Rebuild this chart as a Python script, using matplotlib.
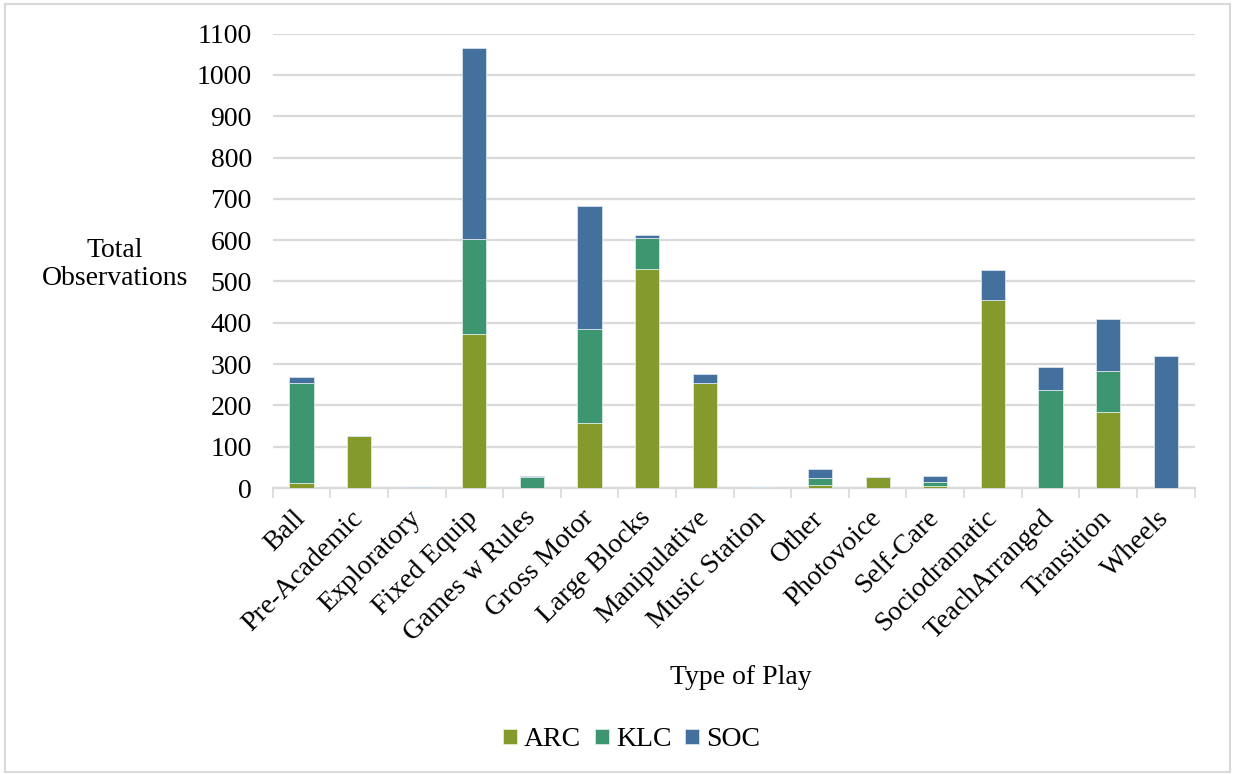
import matplotlib
matplotlib.use('Agg')
import matplotlib.pyplot as plt
import numpy as np
from matplotlib.patches import Rectangle

# Types of play and counts per site
categories = ['Ball', 'Pre-Academic', 'Exploratory', 'Fixed Equip', 'Games w Rules',
              'Gross Motor', 'Large Blocks', 'Manipulative', 'Music Station', 'Other',
              'Photovoice', 'Self-Care', 'Sociodramatic', 'TeachArranged', 'Transition',
              'Wheels']
arc = [12, 125, 0, 373, 0, 157, 530, 254, 2, 7, 27, 6, 455, 0, 183, 0]
klc = [243, 0, 0, 230, 27, 228, 76, 0, 0, 17, 0, 8, 0, 238, 100, 0]
soc = [14, 0, 3, 462, 1, 298, 7, 23, 0, 23, 0, 14, 74, 54, 125, 320]

plt.rcParams['font.family'] = ['Liberation Serif', 'DejaVu Serif']

fig = plt.figure(figsize=(12.34, 7.74), dpi=100)
ax = fig.add_axes([0.221, 0.3695, 0.747, 0.587])

x = np.arange(len(categories))
w = 0.42
arc = np.array(arc)
klc = np.array(klc)
soc = np.array(soc)
ax.bar(x, arc, w, color='#859a2c', edgecolor='#e6ecd0', linewidth=0.6, label='ARC', zorder=3)
ax.bar(x, klc, w, bottom=arc, color='#3d9670', edgecolor='#d6ebe0', linewidth=0.6, label='KLC', zorder=3)
ax.bar(x, soc, w, bottom=arc + klc, color='#44709d', edgecolor='#d8e2ee', linewidth=0.6, label='SOC', zorder=3)

ax.set_xlim(-0.5, len(categories) - 0.5)
ax.set_ylim(0, 1100)
ax.set_yticks(np.arange(0, 1101, 100))
ax.grid(axis='y', color='#d9d9d9', linewidth=1.6, zorder=0)
ax.set_axisbelow(True)

ax.set_xticks(x)
ax.set_xticklabels(categories, rotation=45, ha='right', va='center',
                   rotation_mode='anchor', fontsize=20)
ax.set_xticks(np.arange(-0.5, len(categories), 1), minor=True)
ax.tick_params(axis='x', which='major', length=0, pad=19)
ax.tick_params(axis='x', which='minor', length=7, color='#d9d9d9', width=1.2)
ax.tick_params(axis='y', length=0, labelsize=20, pad=15)

for s in ['top', 'right', 'left']:
    ax.spines[s].set_visible(False)
ax.spines['bottom'].set_color('#d9d9d9')
ax.spines['bottom'].set_linewidth(1.6)

fig.text(0.093, 0.658, 'Total\nObservations', ha='center', va='center', fontsize=20,
         linespacing=1.15)
fig.text(0.6, 0.125, 'Type of Play', ha='center', va='center', fontsize=20)

fig.legend(loc='center', bbox_to_anchor=(0.512, 0.044), ncol=3, frameon=False,
           fontsize=20, handlelength=0.5, handleheight=0.5, handletextpad=0.25,
           columnspacing=0.5)

fig.patches.append(Rectangle((0.004, 0.003), 0.993, 0.992, transform=fig.transFigure,
                             fill=False, edgecolor='#d9d9d9', linewidth=1.5))

fig.savefig('out.png', dpi=100, facecolor='white')
